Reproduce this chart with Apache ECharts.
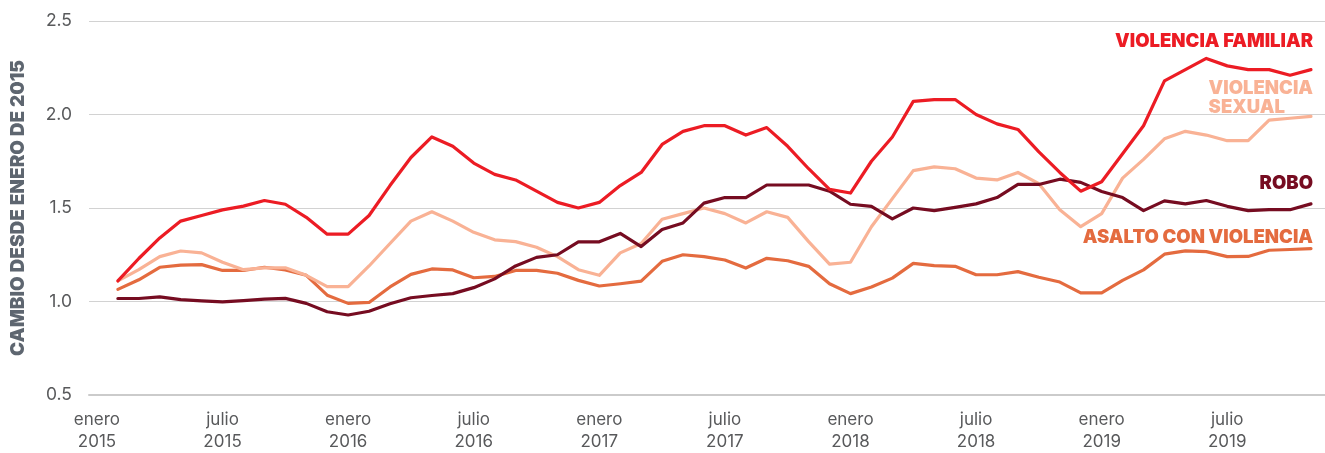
<!DOCTYPE html>
<html>
<head>
<meta charset="utf-8">
<script src="https://cdn.jsdelivr.net/npm/echarts@6/dist/echarts.min.js"></script>
<style>
  html, body { margin: 0; padding: 0; background: #fff; }
  #chart { width: 1325px; height: 453px; }
</style>
</head>
<body>
<div id="chart"></div>
<script>
// meses: feb 2015 .. nov 2019 (58 puntos), posición = meses desde enero 2015
const meses = [];
for (let y = 2015; y <= 2019; y++) {
  for (let m = 1; m <= 12; m++) {
    if ((y === 2015 && m === 1) || (y === 2019 && m === 12)) continue;
    meses.push(y + '-' + String(m).padStart(2, '0'));
  }
}

const violenciaFamiliar = [
  1.11, 1.23, 1.34, 1.43, 1.46, 1.49, 1.51, 1.54, 1.52, 1.45, 1.36, 1.36,
  1.46, 1.62, 1.77, 1.88, 1.83, 1.74, 1.68, 1.65, 1.59, 1.53, 1.50, 1.53,
  1.62, 1.69, 1.84, 1.91, 1.94, 1.94, 1.89, 1.93, 1.83, 1.71, 1.60, 1.58,
  1.75, 1.88, 2.07, 2.08, 2.08, 2.00, 1.95, 1.92, 1.80, 1.69, 1.59, 1.64,
  1.79, 1.94, 2.18, 2.24, 2.30, 2.26, 2.24, 2.24, 2.21, 2.24
];
const violenciaSexual = [
  1.11, 1.17, 1.24, 1.27, 1.26, 1.21, 1.17, 1.18, 1.18, 1.14, 1.08, 1.08,
  1.19, 1.31, 1.43, 1.48, 1.43, 1.37, 1.33, 1.32, 1.29, 1.24, 1.17, 1.14,
  1.26, 1.31, 1.44, 1.47, 1.50, 1.47, 1.42, 1.48, 1.45, 1.32, 1.20, 1.21,
  1.40, 1.55, 1.70, 1.72, 1.71, 1.66, 1.65, 1.69, 1.63, 1.49, 1.40, 1.47,
  1.66, 1.76, 1.87, 1.91, 1.89, 1.86, 1.86, 1.97, 1.98, 1.99
];
const robo = [
  1.016, 1.016, 1.025, 1.010, 1.003, 0.998, 1.005, 1.013, 1.017, 0.990, 0.945, 0.928,
  0.948, 0.988, 1.020, 1.032, 1.042, 1.074, 1.121, 1.190, 1.236, 1.250, 1.319, 1.319,
  1.364, 1.294, 1.385, 1.420, 1.526, 1.556, 1.556, 1.623, 1.623, 1.623, 1.590, 1.520,
  1.509, 1.442, 1.500, 1.486, 1.503, 1.522, 1.556, 1.626, 1.626, 1.654, 1.637, 1.588,
  1.556, 1.486, 1.538, 1.522, 1.540, 1.509, 1.486, 1.491, 1.491, 1.522
];
const asaltoConViolencia = [
  1.065, 1.116, 1.183, 1.195, 1.197, 1.166, 1.166, 1.183, 1.169, 1.140, 1.034, 0.990,
  0.995, 1.078, 1.145, 1.174, 1.169, 1.127, 1.134, 1.166, 1.166, 1.151, 1.113, 1.083,
  1.095, 1.109, 1.215, 1.250, 1.240, 1.222, 1.179, 1.231, 1.218, 1.188, 1.095, 1.042,
  1.078, 1.125, 1.204, 1.192, 1.188, 1.143, 1.143, 1.160, 1.130, 1.104, 1.046, 1.046,
  1.113, 1.169, 1.253, 1.271, 1.267, 1.240, 1.241, 1.274, 1.278, 1.283
];

const tickValues = [0, 6, 12, 18, 24, 30, 36, 42, 48, 54];
const tickLabels = [
  'enero\n2015', 'julio\n2015', 'enero\n2016', 'julio\n2016', 'enero\n2017',
  'julio\n2017', 'enero\n2018', 'julio\n2018', 'enero\n2019', 'julio\n2019'
];

function mesIndex(s) {
  const [y, m] = s.split('-').map(Number);
  return (y - 2015) * 12 + (m - 1);
}
function pares(vals) {
  return meses.map((m, i) => [mesIndex(m), vals[i]]);
}

const chart = echarts.init(document.getElementById('chart'));

const labelFont = 'Inter, "Noto Sans", sans-serif';
const heavyFont = 'Inter, Roboto, "Noto Sans", sans-serif';

function linea(name, vals, color) {
  return {
    name: name,
    type: 'line',
    data: pares(vals),
    showSymbol: false,
    smooth: false,
    lineStyle: { color: color, width: 3.2, cap: 'round', join: 'round' },
    itemStyle: { color: color }
  };
}

function etiqueta(text, y, color) {
  return {
    type: 'text',
    right: 12,
    top: y,
    style: {
      text: text,
      fill: color,
      fontSize: 18.5,
      fontWeight: 900,
      fontFamily: heavyFont,
      align: 'right',
      lineHeight: 18.5
    }
  };
}

chart.setOption({
  animation: false,
  backgroundColor: '#ffffff',
  grid: { left: 89, right: 0, top: 21, bottom: 53, containLabel: false },
  xAxis: {
    type: 'value',
    min: -0.38,
    max: 58.67,
    axisLine: { show: true, onZero: false, lineStyle: { color: '#cbcbcb', width: 2 } },
    axisTick: { show: false },
    splitLine: { show: false },
    axisLabel: {
      customValues: tickValues,
      formatter: function (v) {
        const i = tickValues.indexOf(Math.round(v));
        return i >= 0 ? tickLabels[i] : '';
      },
      margin: 14,
      fontSize: 17,
      lineHeight: 22,
      color: '#58595b',
      fontFamily: labelFont
    }
  },
  yAxis: {
    type: 'value',
    min: 0.5,
    max: 2.5,
    interval: 0.5,
    axisLine: { show: false },
    axisTick: { show: false },
    splitLine: { lineStyle: { color: '#d2d2d2', width: 1.2 } },
    axisLabel: {
      formatter: function (v) { return v.toFixed(1); },
      margin: 17,
      fontSize: 17.5,
      color: '#58595b',
      fontFamily: labelFont
    },
    name: 'CAMBIO DESDE ENERO DE 2015',
    nameLocation: 'middle',
    nameGap: 61,
    nameTextStyle: {
      fontSize: 19,
      fontWeight: 900,
      color: '#5e6670',
      fontFamily: heavyFont
    }
  },
  series: [
    linea('Asalto con violencia', asaltoConViolencia, '#e46b3f'),
    linea('Violencia sexual', violenciaSexual, '#f9b295'),
    linea('Robo', robo, '#760c21'),
    linea('Violencia familiar', violenciaFamiliar, '#ec1c24')
  ],
  graphic: [
    etiqueta('VIOLENCIA FAMILIAR', 32, '#ec1c24'),
    etiqueta('VIOLENCIA\nSEXUAL', 79, '#f9b295'),
    etiqueta('ROBO', 174, '#760c21'),
    etiqueta('ASALTO CON VIOLENCIA', 228, '#e46b3f')
  ]
});
</script>
</body>
</html>
